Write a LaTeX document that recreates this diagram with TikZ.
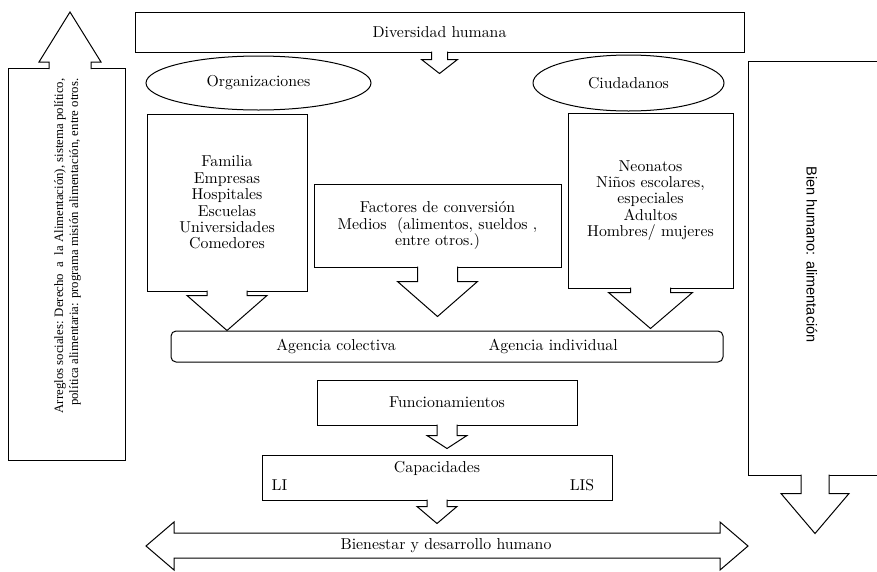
\documentclass[tikz,border=0pt]{standalone}
\usepackage{fontspec}
\usepackage{tikz}
\usetikzlibrary{shapes}
\newfontfamily\timesfont{Liberation Serif}
\newfontfamily\arialfont{Liberation Sans}
\newfontfamily\lmten{lmroman10-regular.otf}
\newcommand{\dnarrow}[5]{%
  \draw[fill=white] #1 ++(-#2,-1) -- ++(0,#3+1) -- ++(#2-#4,0) -- ++(#4,#5) -- ++(#4,-#5) -- ++(#2-#4,0) -- ++(0,-#3-1);
}

\begin{document}
\begin{tikzpicture}[
            x=1pt, y=-1pt, line width=1pt,
            box/.style={rectangle, draw, line width=1pt, align=center, inner sep=0pt, font=\lmten\fontsize{15.8}{16.4}\selectfont},
            oval/.style={ellipse, draw, line width=1pt, inner sep=0pt, font=\lmten\fontsize{15.8}{16.4}\selectfont},
            txt/.style={inner sep=0pt, font=\lmten\fontsize{15.8}{16.4}\selectfont}
        ]
            \clip (0,0) rectangle (877,571);

            \node[box, minimum width=609, minimum height=40] (div) at (439.5,32) {Diversidad humana};
            \node[oval, minimum width=225, minimum height=54] (org) at (258.5,83) {Organizaciones};
            \node[oval, minimum width=191, minimum height=56] (ciu) at (628.5,83) {Ciudadanos};
            \node[box, minimum width=160, minimum height=177] (fam) at (227,202.5) {Familia\\Empresas\\Hospitales\\Escuelas\\Universidades\\Comedores};
            \node[box, minimum width=247, minimum height=83] (fac) at (437.5,225.5) {Factores de conversión\\Medios\ \ (alimentos, sueldos\ ,\\entre otros.)};
            \node[box, minimum width=165, minimum height=175] (neo) at (650.5,200.5) {Neonatos\\Niños escolares,\\especiales\\Adultos\\Hombres/ mujeres};
            \node[box, rounded corners=5pt, minimum width=552, minimum height=31] (agen) at (447,346.5) {Agencia colectiva\hspace{93pt}Agencia individual};
            \node[box, minimum width=260, minimum height=45] (fun) at (447,402.5) {Funcionamientos};
            \node[box, minimum width=350, minimum height=45] (cap) at (437,477.5) {};
            \node[txt] (captxt) at (437,468) {Capacidades};
            \node[txt] (li) at (279.5,485) {LI};
            \node[txt] (lis) at (582,485) {LIS};

            \node[box, minimum width=117, minimum height=392] (arr) at (66.5,264) {};
            \node[txt, font=\timesfont\fontsize{12.8}{15}\selectfont, rotate=90, align=right, anchor=east] (arrtxt) at (67.5,78) {Arreglos sociales: Derecho\ \ a\ \ la Alimentación), sistema político,\\política alimentaria: programa misión alimentación, entre otros.};
            \node[box, minimum width=134, minimum height=414] (bien) at (815,268) {};
            \node[txt, font=\arialfont\fontsize{14.5}{16}\selectfont, rotate=-90] (bientxt) at (812,254.5) {Bien humano: alimentación};

            \dnarrow{(div.south)}{8}{7}{18}{14}
            \dnarrow{(fam.south)}{20}{4}{40}{35}
            \dnarrow{(fac.south)}{20}{14}{40}{35}
            \dnarrow{(neo.south)}{20}{4}{42}{36}
            \dnarrow{(fun.south)}{10}{10}{20}{13}
            \dnarrow{(cap.south)}{10}{6}{20}{17}
            \dnarrow{(bien.south)}{14}{18}{34}{40}
            \draw[fill=white] (49,69) -- (49,62) -- (39,62) -- (70,12) -- (101,62) -- (91,62) -- (91,69);

            \draw (146,546) -- (174,522) -- (174,533) -- (720,533) -- (720,522) -- (748,546) -- (720,570) -- (720,558) -- (174,558) -- (174,570) -- cycle;
            \node[txt] (bdh) at (446,546) {Bienestar y desarrollo humano};
        \end{tikzpicture}
\end{document}
